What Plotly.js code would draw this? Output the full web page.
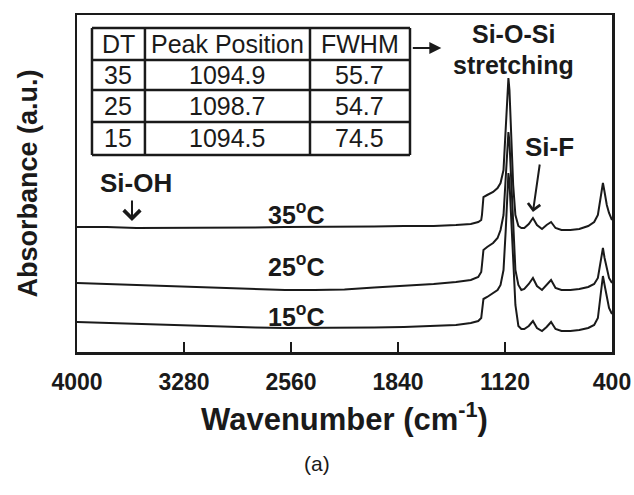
<!DOCTYPE html>
<html>
<head>
<meta charset="utf-8">
<script src="https://cdn.plot.ly/plotly-3.0.1.min.js"></script>
<style>html,body{margin:0;padding:0;background:#fff;}#chart{width:634px;height:495px;}</style>
</head>
<body>
<div id="chart"></div>
<script>
// Wavenumber axis (cm^-1)
const wavenumber = [4000, 3800, 3600, 3400, 3200, 3000, 2800, 2600, 2400, 2200,
  2000, 1800, 1600, 1450, 1350, 1300, 1280, 1275, 1265, 1240,
  1200, 1170, 1150, 1130, 1115, 1105, 1097, 1090, 1080, 1065,
  1050, 1030, 1010, 990, 960, 932, 905, 871, 840, 810,
  780, 740, 680, 620, 560, 520, 495, 475, 461, 450,
  435, 420, 400];

// Absorbance (a.u., offset curves)
const abs35 = [1.25, 1.25, 1.24, 1.24, 1.24, 1.24, 1.245, 1.25, 1.25, 1.25,
  1.255, 1.26, 1.26, 1.27, 1.28, 1.30, 1.32, 1.37, 1.55, 1.57,
  1.60, 1.64, 1.69, 1.82, 2.22, 2.57, 2.74, 2.62, 2.22, 1.67,
  1.37, 1.26, 1.24, 1.24, 1.28, 1.34, 1.27, 1.23, 1.27, 1.30,
  1.24, 1.22, 1.22, 1.23, 1.26, 1.30, 1.37, 1.57, 1.69, 1.60,
  1.47, 1.39, 1.32];
const abs25 = [0.69, 0.68, 0.67, 0.66, 0.65, 0.635, 0.625, 0.62, 0.62, 0.625,
  0.645, 0.66, 0.68, 0.70, 0.72, 0.75, 0.80, 0.87, 1.02, 1.05,
  1.09, 1.14, 1.22, 1.37, 1.72, 2.07, 2.20, 2.10, 1.77, 1.22,
  0.82, 0.67, 0.62, 0.63, 0.68, 0.74, 0.66, 0.62, 0.67, 0.72,
  0.64, 0.62, 0.62, 0.63, 0.65, 0.68, 0.74, 0.92, 1.04, 0.94,
  0.82, 0.74, 0.69];
const abs15 = [0.30, 0.29, 0.28, 0.27, 0.26, 0.25, 0.245, 0.24, 0.24, 0.24,
  0.245, 0.25, 0.26, 0.27, 0.29, 0.31, 0.34, 0.40, 0.53, 0.55,
  0.59, 0.62, 0.67, 0.82, 1.22, 1.62, 1.79, 1.70, 1.37, 0.84,
  0.47, 0.26, 0.23, 0.23, 0.26, 0.31, 0.24, 0.21, 0.25, 0.30,
  0.23, 0.21, 0.21, 0.22, 0.24, 0.27, 0.34, 0.59, 0.76, 0.67,
  0.54, 0.44, 0.38];

const seriesNames = ['35<sup>o</sup>C', '25<sup>o</sup>C', '15<sup>o</sup>C'];
const tickValues = [4000, 3280, 2560, 1840, 1120, 400];

// Inset table
const tableHeader = ['DT', 'Peak Position', 'FWHM'];
const dtValues = ['35', '25', '15'];
const peakPosition = ['1094.9', '1098.7', '1094.5'];
const fwhmValues = ['55.7', '54.7', '74.5'];

const FONT = 'Liberation Sans, Arial, Helvetica, sans-serif';
const INK = '#1a1a1a';
const lineStyle = {color: INK, width: 2};

const traces = [
  {x: wavenumber, y: abs35, type: 'scatter', mode: 'lines', line: lineStyle, name: seriesNames[0], showlegend: false, hoverinfo: 'skip'},
  {x: wavenumber, y: abs25, type: 'scatter', mode: 'lines', line: lineStyle, name: seriesNames[1], showlegend: false, hoverinfo: 'skip'},
  {x: wavenumber, y: abs15, type: 'scatter', mode: 'lines', line: lineStyle, name: seriesNames[2], showlegend: false, hoverinfo: 'skip'}
];

// Table geometry (paper fractions)
const colEdges = [0.028, 0.127, 0.4355, 0.6224];
const rowEdges = [0.9614, 0.8665, 0.7774, 0.6825, 0.5846];
const shapes = [];
colEdges.forEach(cx => shapes.push({type: 'line', xref: 'paper', yref: 'paper',
  x0: cx, x1: cx, y0: rowEdges[rowEdges.length - 1], y1: rowEdges[0], line: {color: INK, width: 2.5}}));
rowEdges.forEach(ry => shapes.push({type: 'line', xref: 'paper', yref: 'paper',
  x0: colEdges[0], x1: colEdges[colEdges.length - 1], y0: ry, y1: ry, line: {color: INK, width: 2.5}}));

const tableRows = [tableHeader].concat(dtValues.map((d, i) => [d, peakPosition[i], fwhmValues[i]]));
const annotations = [];
tableRows.forEach((row, r) => {
  row.forEach((txt, c) => {
    annotations.push({
      text: txt, xref: 'paper', yref: 'paper',
      x: (colEdges[c] + colEdges[c + 1]) / 2, y: (rowEdges[r] + rowEdges[r + 1]) / 2,
      showarrow: false, xanchor: 'center', yanchor: 'middle',
      font: {family: FONT, size: 25, color: INK}
    });
  });
});

const boldAnn = (text, x, y, size) => ({
  text: '<b>' + text + '</b>', xref: 'x', yref: 'y', x: x, y: y,
  showarrow: false, font: {family: FONT, size: size, color: INK},
  xanchor: 'center', yanchor: 'middle'
});

annotations.push(
  boldAnn('Si-O-Si', 1066, 3.18, 25),
  boldAnn('stretching', 1066, 2.87, 25),
  boldAnn('Si-F', 820, 2.05, 26),
  boldAnn('Si-OH', 3600, 1.69, 26),
  boldAnn(seriesNames[0], 2526, 1.39, 25),
  boldAnn(seriesNames[1], 2526, 0.87, 25),
  boldAnn(seriesNames[2], 2526, 0.37, 25),
  {
    text: '', xref: 'x', yref: 'y', x: 3630, y: 1.31, ax: 0, ay: -22,
    showarrow: true, arrowhead: 4, arrowsize: 1.6, arrowwidth: 2, arrowcolor: INK
  },
  {
    text: '', xref: 'x', yref: 'y', x: 932, y: 1.40, ax: 7, ay: -49,
    showarrow: true, arrowhead: 4, arrowsize: 1.2, arrowwidth: 2, arrowcolor: INK
  },
  {
    text: '', xref: 'paper', yref: 'paper', x: 0.681, y: 0.902, ax: -30, ay: 0,
    showarrow: true, arrowhead: 2, arrowsize: 1.2, arrowwidth: 2, arrowcolor: INK
  },
  {
    text: '(a)', xref: 'paper', yref: 'paper', x: 0.448, y: -0.33,
    showarrow: false, font: {family: FONT, size: 21, color: INK},
    xanchor: 'center', yanchor: 'middle'
  }
);

const layout = {
  width: 634, height: 495,
  margin: {l: 77, r: 22, t: 15, b: 143},
  paper_bgcolor: 'white', plot_bgcolor: 'white',
  showlegend: false,
  xaxis: {
    range: [4000, 400], tickvals: tickValues, ticktext: tickValues.map(String),
    ticks: 'inside', ticklen: 10, tickwidth: 2, tickcolor: INK,
    showline: true, linewidth: 2.5, linecolor: INK, mirror: true,
    showgrid: false, zeroline: false, ticklabelstandoff: 8,
    tickfont: {family: FONT, size: 23, color: INK, weight: 'bold'},
    title: {text: '<b>Wavenumber (cm<sup>-1</sup>)</b>', standoff: 14,
      font: {family: FONT, size: 31, color: INK}}
  },
  yaxis: {
    range: [0, 3.37], showticklabels: false, ticks: '',
    showline: true, linewidth: 2.5, linecolor: INK, mirror: true,
    showgrid: false, zeroline: false,
    title: {text: '<b>Absorbance (a.u.)</b>', standoff: 29,
      font: {family: FONT, size: 27, color: INK}}
  },
  shapes: shapes,
  annotations: annotations
};

Plotly.newPlot('chart', traces, layout, {displayModeBar: false, staticPlot: true});
</script>
</body>
</html>
